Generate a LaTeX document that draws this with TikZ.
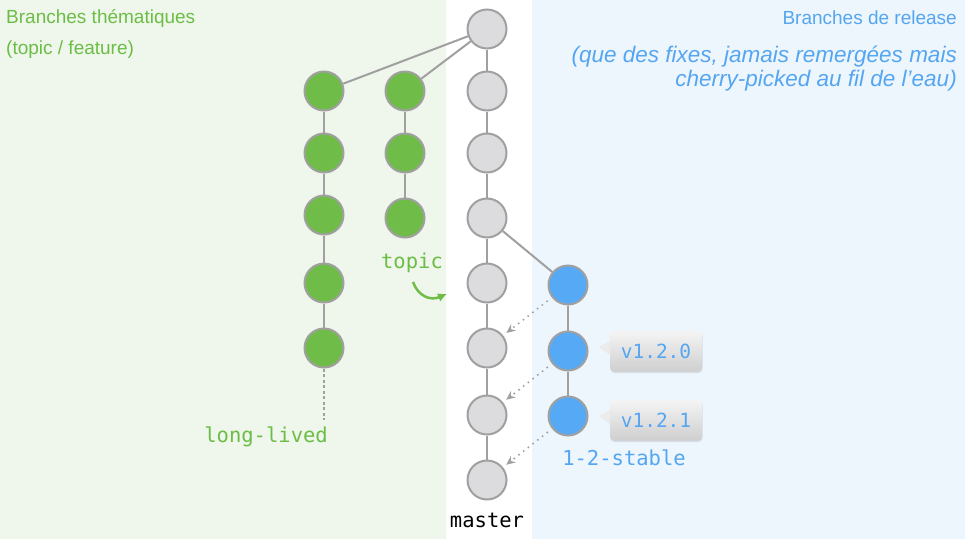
\documentclass[tikz,border=0pt]{standalone}
\usepackage{fontspec}
\setmainfont{Liberation Sans}
\newfontfamily\codefont{DejaVu Sans Mono}
\usepackage{tikz}
\usetikzlibrary{calc}
\usetikzlibrary{arrows.meta}
\usetikzlibrary{shadows}
\definecolor{greenbg}{HTML}{EFF6EB}
\definecolor{bluebg}{HTML}{EDF5FD}
\definecolor{greenfill}{HTML}{70BC48}
\definecolor{greentext}{HTML}{6CBD46}
\definecolor{bluefill}{HTML}{56AAF5}
\definecolor{bluetext}{HTML}{55A6F0}
\definecolor{greyfill}{HTML}{DCDCDE}
\definecolor{edgegrey}{HTML}{A0A0A0}
\tikzset{>=latex}
\tikzstyle{commit} = [circle, draw=edgegrey, line width=2pt, minimum size=39pt, inner sep=0]
\tikzstyle{mc} = [commit, fill=greyfill]
\tikzstyle{gc} = [commit, fill=greenfill]
\tikzstyle{bc} = [commit, fill=bluefill]
\tikzstyle{link} = [-, draw=edgegrey, line width=2pt]
\tikzstyle{pick} = [draw=edgegrey, line width=2.2pt, line cap=round, dash pattern=on 0pt off 6pt, -{Stealth[length=9pt, width=8pt]}, shorten <=6pt, shorten >=4pt]
\tikzstyle{lbl} = [draw=none, inner sep=0, font=\codefont\fontsize{20.5}{24}\selectfont]
\tikzstyle{tag} = [rounded corners=4pt, minimum width=92pt, minimum height=41pt, inner sep=0, top color=gray!8, bottom color=gray!38, drop shadow={opacity=0.2, shadow xshift=0.5pt, shadow yshift=-1.5pt}, text=bluetext, font=\codefont\fontsize{19.5}{22}\selectfont]
\tikzstyle{head} = [draw=none, inner sep=0, font=\fontsize{19}{22}\selectfont]

\begin{document}
\begin{tikzpicture}[x=1pt, y=-1pt]
\useasboundingbox (0,0) rectangle (965,539);
\fill [greenbg] (0,0) rectangle (446,539);
\fill [bluebg] (532,0) rectangle (965,539);
% titles
\node [head, anchor=west, text=greentext] (tl1) at (6,18) {Branches thématiques};
\node [head, anchor=west, text=greentext] (tl2) at (6,50) {(topic / feature)};
\node [head, anchor=east, text=bluetext] (tr1) at (957,18) {Branches de release};
\node [draw=none, inner sep=0, anchor=north east, align=right, text=bluetext, font=\itshape\fontsize{22.5}{24}\selectfont] (tr2) at (957,46) {(que des fixes, jamais remergées mais\\cherry-picked au fil de l’eau)};
% master
\node [mc] (m1) at (487,29) {};
\node [mc] (m2) at (487,91) {};
\node [mc] (m3) at (487,153) {};
\node [mc] (m4) at (487,218) {};
\node [mc] (m5) at (487,283) {};
\node [mc] (m6) at (487,348) {};
\node [mc] (m7) at (487,415) {};
\node [mc] (m8) at (487,480) {};
\node [lbl] (master) at (487,520) {master};
% long-lived branch
\node [gc] (g1) at (324,91) {};
\node [gc] (g2) at (324,153) {};
\node [gc] (g3) at (324,215) {};
\node [gc] (g4) at (324,283) {};
\node [gc] (g5) at (324,348) {};
\node [lbl, text=greentext, anchor=east] (longlived) at (328,437) {long-lived};
\coordinate (llend) at (324,420);
% topic branch
\node [gc] (t1) at (405,91) {};
\node [gc] (t2) at (405,153) {};
\node [gc] (t3) at (405,218) {};
\node [lbl, text=greentext] (topic) at (412,263) {topic};
\coordinate (tp1) at (413,282);
\coordinate (tp2) at (447,294);
% release branch
\node [bc] (b1) at (568,285) {};
\node [bc] (b2) at (568,351) {};
\node [bc] (b3) at (568,416) {};
\node [lbl, text=bluetext] (stable) at (624,458) {1-2-stable};
\node [tag] (v120) at (656,351) {v1.2.0};
\node [tag] (v121) at (656,420) {v1.2.1};
\fill [gray!16] ($(v120.west)+(0.5,-10)$) -- ($(v120.west)+(-11,-4)$) -- ($(v120.west)+(0.5,4)$) -- cycle;
\fill [gray!16] ($(v121.west)+(0.5,-10)$) -- ($(v121.west)+(-11,-4)$) -- ($(v121.west)+(0.5,4)$) -- cycle;
% links
\draw [link] (m1) to (m2);
\draw [link] (m2) to (m3);
\draw [link] (m3) to (m4);
\draw [link] (m4) to (m5);
\draw [link] (m5) to (m6);
\draw [link] (m6) to (m7);
\draw [link] (m7) to (m8);
\draw [link] (m1) to (g1);
\draw [link] (m1) to (t1);
\draw [link] (g1) to (g2);
\draw [link] (g2) to (g3);
\draw [link] (g3) to (g4);
\draw [link] (g4) to (g5);
\draw [link] (t1) to (t2);
\draw [link] (t2) to (t3);
\draw [link] (m4) to (b1);
\draw [link] (b1) to (b2);
\draw [link] (b2) to (b3);
\draw [draw=edgegrey, line width=2pt, dash pattern=on 3pt off 2.5pt] (g5) to (llend);
\draw [pick] (b1) to (m6);
\draw [pick] (b2) to (m7);
\draw [pick] (b3) to (m8);
\draw [draw=greenfill, line width=2.5pt, -{Latex[length=9pt, width=9pt]}] (tp1) .. controls (418,296) and (430,301) .. (tp2);
\end{tikzpicture}
\end{document}
